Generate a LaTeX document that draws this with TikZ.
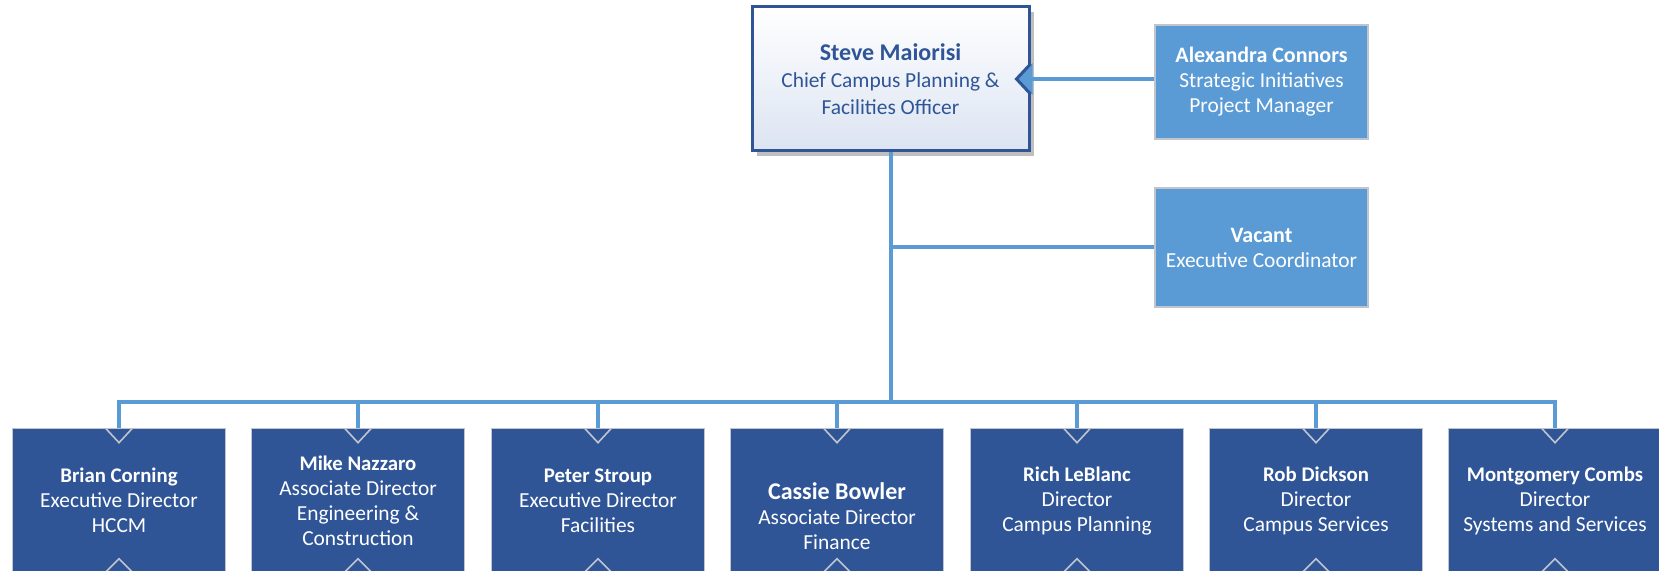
\documentclass[tikz,border=0pt]{standalone}
\usepackage{fontspec}
\setmainfont{Carlito}
\usepackage{tikz}
\usetikzlibrary{shadows}

\definecolor{boxblue}{HTML}{2F5597}
\definecolor{lineblue}{HTML}{5B9BD5}
\definecolor{boxedge}{HTML}{C0C4CC}
\definecolor{headfill}{HTML}{DCE4F2}

\newcommand{\who}[2][10.4]{{\fontsize{#1}{12.5}\selectfont\textbf{#2}}}

\tikzset{
  link/.style={draw=lineblue, line width=2pt},
  headbox/.style={draw=boxblue, line width=1.5pt, top color=white, bottom color=headfill,
    minimum width=138.5pt, minimum height=72pt, inner sep=2pt, align=center, text=boxblue,
    font=\fontsize{10.7}{13.5}\selectfont,
    drop shadow={shadow xshift=2.5pt, shadow yshift=-2.5pt, fill=black, opacity=0.25}},
  staffbox/.style={draw=boxedge, line width=0.7pt, fill=lineblue, text=white,
    minimum width=106.5pt, inner sep=2pt, align=center, font=\fontsize{10.7}{12.5}\selectfont},
  unitbox/.style={draw=boxedge, line width=0.7pt, fill=boxblue, text=white, anchor=north,
    minimum width=106.5pt, minimum height=72pt, inner sep=2pt, align=center,
    font=\fontsize{10.7}{12.5}\selectfont,
    path picture={
      \draw[boxedge, line width=0.8pt] ([xshift=-6.5pt]path picture bounding box.north)
        -- ([yshift=-7pt]path picture bounding box.north)
        -- ([xshift=6.5pt]path picture bounding box.north);
      \draw[boxedge, line width=0.8pt] ([xshift=-6.5pt,yshift=-71.5pt]path picture bounding box.north)
        -- ([yshift=-65pt]path picture bounding box.north)
        -- ([xshift=6.5pt,yshift=-71.5pt]path picture bounding box.north);
    }},
}

\begin{document}
\begin{tikzpicture}[x=0.5pt,y=-0.5pt]
\useasboundingbox (0,0) rectangle (1659,571);
\clip (0,0) rectangle (1659,571);

\node[headbox] (steve) at (890.5,79) {\who[12]{Steve Maiorisi}\\Chief Campus Planning \&\\Facilities Officer};
\node[staffbox, minimum height=57pt] (alex) at (1261.5,82) {\who[11]{Alexandra Connors}\\Strategic Initiatives\\Project Manager};
\node[staffbox, minimum height=59.5pt] (vacant) at (1261.5,247.5) {\who[11]{Vacant}\\Executive Coordinator};

\node[unitbox] (hccm) at (119,428) {\who{Brian Corning}\\Executive Director\\HCCM};
\node[unitbox] (eng) at (358,428) {\who{Mike Nazzaro}\\Associate Director\\Engineering \&\\Construction};
\node[unitbox] (fac) at (598,428) {\who{Peter Stroup}\\Executive Director\\Facilities};
\node[unitbox, minimum height=87pt] (fin) at (837,428) {\who[12]{Cassie Bowler}\\Associate Director\\Finance};
\node[unitbox] (plan) at (1077,428) {\who{Rich LeBlanc}\\Director\\Campus Planning};
\node[unitbox] (serv) at (1316,428) {\who{Rob Dickson}\\Director\\Campus Services};
\node[unitbox] (sys) at (1555,428) {\who{Montgomery Combs}\\Director\\Systems and Services};

\coordinate (hub) at (steve.south |- 0,402);

\draw[link] (steve.south) -- (hub);
\draw[link] (steve.south |- vacant.west) -- (vacant.west);
\draw[link] (steve.east -| alex.west) -- (steve.east);
\draw[link] (hub) -| (hccm.north);
\draw[link] (hub) -| (eng.north);
\draw[link] (hub) -| (fac.north);
\draw[link] (hub) -| (fin.north);
\draw[link] (hub) -| (plan.north);
\draw[link] (hub) -| (serv.north);
\draw[link] (hub) -| (sys.north);

\fill[lineblue] ([xshift=1pt,yshift=8pt]steve.east) -- ([xshift=-7pt]steve.east) -- ([xshift=1pt,yshift=-8pt]steve.east) -- cycle;
\draw[boxblue, line width=1.5pt] ([yshift=7.5pt]steve.east) -- ([xshift=-7pt]steve.east) -- ([yshift=-7.5pt]steve.east);

\end{tikzpicture}
\end{document}
